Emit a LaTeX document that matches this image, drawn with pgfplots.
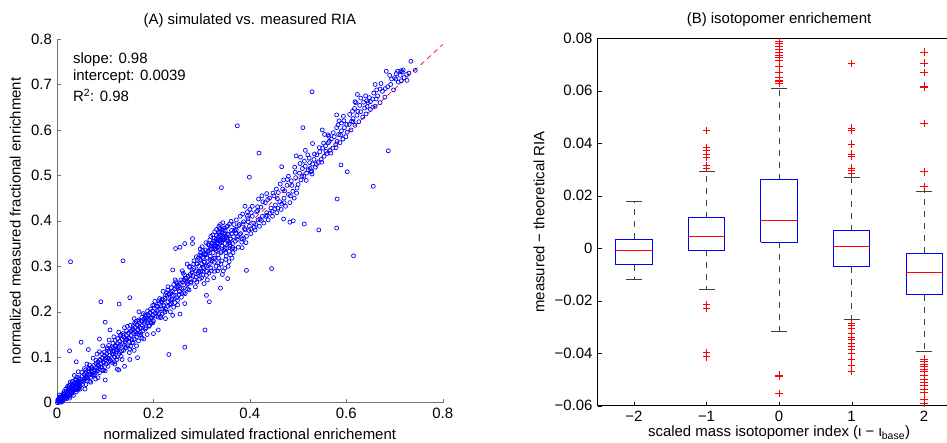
\documentclass[border=0pt]{standalone}
\usepackage{pgfplots}
\pgfplotsset{compat=1.18}
\usepackage{fontspec}
\setmainfont{Liberation Sans}
\begin{document}
\fontsize{15}{18}\selectfont
\begin{tikzpicture}[x=1bp,y=1bp]
\path[use as bounding box] (0,0) rectangle (947,443);
% ---------------- (A) ----------------
\begin{axis}[at={(57bp,40.3bp)}, anchor=south west, width=385.7bp, height=363.7bp, scale only axis,
  xmin=0, xmax=0.8, ymin=0, ymax=0.8,
  axis lines*=left, axis line style={black!55, line width=0.9bp},
  tick align=inside, major tick length=4bp, tick style={black!55},
  xtick={0,0.2,0.4,0.6,0.8}, xticklabels={0,0.2,0.4,0.6,0.8},
  ytick={0,0.1,0.2,0.3,0.4,0.5,0.6,0.7,0.8}, yticklabels={0,0.1,0.2,0.3,0.4,0.5,0.6,0.7,0.8},
  title={(A) simulated vs. measured RIA},
  xlabel={normalized simulated fractional enrichement},
  ylabel={normalized measured fractional enrichment},
  clip=false]
\addplot[only marks, mark=o, mark size=2bp, blue, mark options={line width=0.7bp}] coordinates {
(0.002,0.003)(0.004,0.001)(0.005,0.007)(0.006,0.004)(0.008,0.010)(0.009,0.006)(0.010,0.013)(0.011,0.008)(0.012,0.015)(0.013,0.010)
(0.014,0.012)(0.015,0.019)(0.016,0.014)(0.017,0.011)(0.018,0.022)(0.019,0.017)(0.020,0.024)(0.021,0.016)(0.022,0.020)(0.023,0.027)
(0.024,0.018)(0.025,0.030)(0.026,0.022)(0.027,0.025)(0.028,0.033)(0.029,0.021)(0.030,0.028)(0.031,0.036)(0.032,0.026)(0.033,0.031)
(0.034,0.039)(0.035,0.029)(0.036,0.034)(0.037,0.028)(0.038,0.042)(0.039,0.035)(0.040,0.032)(0.041,0.045)(0.042,0.037)(0.043,0.040)
(0.044,0.034)(0.045,0.048)(0.046,0.041)(0.047,0.044)(0.048,0.036)(0.049,0.052)(0.050,0.045)(0.003,0.008)(0.007,0.002)(0.012,0.004)
(0.015,0.025)(0.020,0.009)(0.025,0.038)(0.030,0.018)(0.035,0.044)(0.040,0.024)(0.045,0.055)(0.048,0.030)(0.001,0.000)(0.006,0.012)
(0.018,0.030)(0.028,0.040)(0.038,0.050)(0.043,0.028)(0.032,0.047)(0.022,0.036)(0.036,0.060)(0.044,0.068)(0.026,0.010)(0.034,0.016)
(0.052,0.058)(0.054,0.047)(0.056,0.062)(0.058,0.052)(0.060,0.066)(0.061,0.055)(0.063,0.048)(0.064,0.070)(0.066,0.060)(0.067,0.074)
(0.069,0.063)(0.070,0.056)(0.072,0.078)(0.073,0.068)(0.075,0.060)(0.076,0.082)(0.078,0.072)(0.079,0.065)(0.081,0.086)(0.082,0.076)
(0.084,0.070)(0.085,0.090)(0.087,0.080)(0.088,0.066)(0.090,0.094)(0.091,0.085)(0.093,0.078)(0.094,0.098)(0.096,0.090)(0.097,0.072)
(0.099,0.103)(0.100,0.094)(0.102,0.085)(0.103,0.108)(0.105,0.099)(0.106,0.080)(0.108,0.112)(0.109,0.104)(0.111,0.092)(0.112,0.117)
(0.114,0.108)(0.115,0.088)(0.117,0.121)(0.118,0.112)(0.120,0.100)(0.121,0.126)(0.123,0.116)(0.124,0.095)(0.126,0.130)(0.127,0.121)
(0.129,0.108)(0.130,0.135)(0.132,0.126)(0.133,0.102)(0.135,0.139)(0.136,0.130)(0.138,0.115)(0.139,0.144)(0.141,0.134)(0.142,0.120)
(0.144,0.148)(0.145,0.139)(0.147,0.125)(0.148,0.153)(0.150,0.143)(0.151,0.118)(0.153,0.157)(0.154,0.148)(0.156,0.132)(0.157,0.162)
(0.159,0.152)(0.160,0.140)(0.162,0.166)(0.163,0.156)(0.165,0.145)(0.166,0.171)(0.168,0.161)(0.169,0.136)(0.171,0.175)(0.172,0.165)
(0.174,0.150)(0.175,0.180)(0.177,0.170)(0.178,0.158)(0.180,0.184)(0.181,0.174)(0.183,0.162)(0.184,0.189)(0.186,0.179)(0.187,0.150)
(0.189,0.193)(0.190,0.183)(0.192,0.170)(0.193,0.198)(0.195,0.187)(0.196,0.175)(0.198,0.202)(0.199,0.192)(0.200,0.180)
(0.062,0.085)(0.075,0.098)(0.088,0.112)(0.095,0.125)(0.108,0.138)(0.118,0.145)(0.128,0.155)(0.140,0.165)(0.160,0.185)(0.170,0.200)
(0.085,0.055)(0.100,0.070)(0.120,0.085)(0.135,0.095)(0.150,0.110)(0.165,0.125)(0.128,0.072)(0.125,0.074)(0.070,0.045)(0.060,0.040)
(0.202,0.208)(0.204,0.196)(0.206,0.212)(0.208,0.200)(0.210,0.188)(0.212,0.218)(0.214,0.206)(0.216,0.222)(0.218,0.195)(0.220,0.226)
(0.222,0.213)(0.224,0.230)(0.226,0.205)(0.228,0.234)(0.230,0.222)(0.232,0.238)(0.234,0.215)(0.236,0.242)(0.238,0.228)(0.240,0.246)
(0.242,0.210)(0.244,0.250)(0.246,0.236)(0.248,0.254)(0.250,0.225)(0.252,0.258)(0.254,0.244)(0.256,0.262)(0.258,0.232)(0.260,0.266)
(0.262,0.252)(0.264,0.270)(0.266,0.240)(0.268,0.274)(0.270,0.260)(0.272,0.278)(0.274,0.248)(0.276,0.282)(0.278,0.266)(0.280,0.286)
(0.215,0.190)(0.235,0.200)(0.250,0.215)(0.255,0.195)(0.240,0.192)(0.265,0.218)(0.225,0.185)(0.220,0.245)(0.245,0.270)(0.260,0.290)
(0.270,0.305)(0.246,0.339)(0.255,0.342)(0.265,0.350)(0.281,0.361)(0.281,0.350)(0.240,0.292)(0.275,0.300)(0.262,0.285)(0.230,0.255)
(0.282,0.280)(0.284,0.295)(0.286,0.270)(0.288,0.290)(0.290,0.305)(0.292,0.282)(0.294,0.300)(0.296,0.315)(0.298,0.288)(0.300,0.306)
(0.302,0.320)(0.304,0.295)(0.306,0.310)(0.308,0.328)(0.310,0.300)(0.312,0.318)(0.314,0.334)(0.316,0.305)(0.318,0.322)(0.320,0.338)
(0.322,0.312)(0.324,0.330)(0.326,0.345)(0.328,0.318)(0.330,0.335)(0.332,0.350)(0.334,0.325)(0.336,0.342)(0.338,0.358)(0.340,0.330)
(0.342,0.346)(0.344,0.362)(0.346,0.335)(0.348,0.350)(0.350,0.366)(0.352,0.340)(0.354,0.356)(0.356,0.370)(0.358,0.345)(0.360,0.360)
(0.362,0.372)(0.364,0.350)(0.366,0.365)(0.368,0.378)(0.370,0.355)(0.325,0.355)(0.330,0.360)(0.335,0.365)(0.340,0.370)(0.328,0.348)
(0.333,0.352)(0.338,0.368)(0.343,0.375)(0.322,0.342)(0.345,0.380)(0.318,0.338)(0.312,0.330)(0.302,0.335)(0.296,0.325)(0.337,0.383)
(0.300,0.275)(0.310,0.280)(0.320,0.290)(0.330,0.300)(0.340,0.305)(0.350,0.315)(0.360,0.325)(0.355,0.300)(0.345,0.290)(0.290,0.265)
(0.305,0.262)(0.315,0.285)(0.325,0.275)(0.335,0.318)(0.365,0.330)(0.348,0.372)(0.352,0.362)(0.327,0.338)(0.332,0.342)(0.341,0.352)
(0.372,0.380)(0.375,0.365)(0.378,0.392)(0.381,0.372)(0.384,0.360)(0.387,0.398)(0.390,0.380)(0.393,0.366)(0.396,0.405)(0.399,0.388)
(0.402,0.372)(0.405,0.410)(0.408,0.395)(0.411,0.380)(0.414,0.420)(0.417,0.402)(0.420,0.388)(0.423,0.430)(0.426,0.410)(0.429,0.395)
(0.432,0.440)(0.435,0.418)(0.438,0.402)(0.441,0.450)(0.444,0.428)(0.447,0.410)(0.450,0.455)(0.453,0.435)(0.456,0.418)(0.459,0.462)
(0.462,0.442)(0.465,0.425)(0.468,0.470)(0.471,0.450)(0.474,0.432)(0.477,0.478)(0.480,0.458)(0.483,0.440)(0.486,0.488)(0.489,0.465)
(0.492,0.450)(0.495,0.495)(0.498,0.472)(0.380,0.410)(0.395,0.420)(0.405,0.432)(0.418,0.448)(0.425,0.455)(0.435,0.460)(0.385,0.415)
(0.400,0.425)(0.455,0.470)(0.470,0.490)(0.480,0.498)(0.399,0.496)(0.390,0.432)(0.416,0.422)(0.466,0.519)(0.493,0.518)(0.496,0.543)
(0.500,0.480)(0.503,0.505)(0.506,0.490)(0.509,0.515)(0.512,0.498)(0.515,0.520)(0.518,0.505)(0.521,0.512)(0.524,0.528)(0.527,0.508)
(0.530,0.525)(0.533,0.535)(0.536,0.518)(0.539,0.545)(0.542,0.528)(0.545,0.552)(0.548,0.535)(0.551,0.560)(0.554,0.542)(0.557,0.565)
(0.560,0.548)(0.563,0.572)(0.566,0.555)(0.569,0.580)(0.572,0.560)(0.575,0.585)(0.578,0.568)(0.581,0.575)(0.584,0.590)(0.587,0.572)
(0.590,0.598)(0.593,0.580)(0.596,0.605)(0.599,0.585)(0.505,0.540)(0.515,0.555)(0.520,0.545)(0.530,0.570)(0.555,0.590)(0.565,0.575)
(0.580,0.605)(0.585,0.620)(0.590,0.615)(0.550,0.600)(0.562,0.589)(0.589,0.523)(0.594,0.630)(0.580,0.633)(0.525,0.515)(0.528,0.510)
(0.602,0.595)(0.606,0.612)(0.610,0.600)(0.614,0.625)(0.618,0.610)(0.622,0.632)(0.626,0.618)(0.630,0.640)(0.634,0.628)(0.638,0.648)
(0.641,0.635)(0.645,0.660)(0.650,0.645)(0.655,0.668)(0.660,0.652)(0.665,0.675)(0.670,0.660)(0.675,0.685)(0.680,0.672)(0.686,0.695)
(0.692,0.700)(0.698,0.688)(0.703,0.712)(0.708,0.705)(0.712,0.720)(0.716,0.728)(0.720,0.715)(0.725,0.722)(0.730,0.725)(0.734,0.751)
(0.743,0.731)(0.726,0.709)(0.683,0.729)(0.704,0.724)(0.713,0.730)(0.663,0.688)(0.642,0.664)(0.623,0.678)(0.618,0.662)(0.650,0.662)
(0.613,0.641)(0.620,0.660)(0.640,0.675)(0.630,0.670)(0.660,0.700)(0.670,0.690)(0.690,0.720)(0.700,0.715)(0.614,0.618)(0.655,0.650)
(0.028,0.310)(0.137,0.312)(0.374,0.609)(0.529,0.684)(0.419,0.549)(0.341,0.473)(0.687,0.554)(0.602,0.508)(0.656,0.476)(0.581,0.448)
(0.510,0.605)(0.580,0.384)(0.543,0.380)(0.513,0.393)(0.470,0.404)(0.483,0.397)(0.490,0.400)(0.615,0.323)(0.445,0.295)(0.393,0.291)
(0.339,0.252)(0.354,0.273)(0.310,0.236)(0.316,0.222)(0.307,0.160)(0.265,0.122)(0.232,0.106)(0.091,0.222)(0.129,0.217)(0.151,0.231)
(0.026,0.114)(0.098,0.013)(0.050,0.133)(0.065,0.117)(0.195,0.176)(0.210,0.160)(0.100,0.177)(0.167,0.099)(0.125,0.101)(0.100,0.050)
(0.151,0.095)(0.110,0.160)(0.088,0.140)(0.040,0.090)(0.058,0.030)(0.080,0.052)(0.140,0.080)(0.180,0.140)(0.200,0.152)(0.160,0.115)
(0.005,0.017)(0.008,0.004)(0.015,0.019)(0.017,0.008)(0.022,0.033)(0.026,0.014)(0.032,0.039)(0.033,0.030)(0.041,0.056)(0.045,0.031)
(0.046,0.047)(0.053,0.040)(0.057,0.075)(0.060,0.054)(0.066,0.076)(0.068,0.047)(0.071,0.074)(0.077,0.061)(0.083,0.107)(0.086,0.075)
(0.089,0.095)(0.095,0.071)(0.098,0.111)(0.101,0.099)(0.107,0.126)(0.110,0.093)(0.113,0.121)(0.119,0.090)(0.122,0.124)(0.125,0.117)
(0.131,0.147)(0.134,0.114)(0.137,0.148)(0.143,0.138)(0.146,0.168)(0.149,0.135)(0.155,0.159)(0.158,0.132)(0.161,0.175)(0.167,0.160)
(0.170,0.179)(0.173,0.154)(0.179,0.196)(0.182,0.179)(0.185,0.191)(0.191,0.168)(0.194,0.206)(0.197,0.187)(0.203,0.223)(0.206,0.190)
(0.209,0.212)(0.215,0.187)(0.218,0.228)(0.221,0.215)(0.227,0.242)(0.230,0.212)(0.233,0.240)(0.239,0.227)(0.242,0.260)(0.245,0.220)
(0.251,0.256)(0.254,0.245)(0.257,0.270)(0.263,0.242)(0.266,0.274)(0.269,0.265)(0.275,0.298)(0.278,0.263)(0.281,0.292)(0.287,0.255)
(0.290,0.306)(0.293,0.286)(0.299,0.324)(0.302,0.289)(0.305,0.309)(0.311,0.289)(0.314,0.333)(0.317,0.315)(0.323,0.351)(0.326,0.309)
(0.329,0.338)(0.335,0.308)(0.338,0.359)(0.341,0.333)(0.347,0.361)(0.350,0.330)(0.353,0.359)(0.359,0.348)(0.362,0.379)(0.365,0.341)
(0.371,0.373)(0.374,0.359)(0.377,0.389)(0.383,0.353)(0.386,0.393)(0.389,0.383)(0.395,0.410)(0.398,0.379)
(0.0015,0.006)(0.0065,0.013)(0.0095,0.001)(0.0135,0.021)(0.0185,0.012)(0.0235,0.015)(0.0275,0.045)(0.0315,0.022)(0.0365,0.028)(0.0395,0.051)
(0.0425,0.046)(0.0475,0.039)(0.0515,0.067)(0.0555,0.051)(0.0595,0.072)(0.0625,0.056)(0.0675,0.083)(0.0725,0.062)(0.0765,0.069)(0.0805,0.093)
(0.0855,0.083)(0.0905,0.079)(0.0925,0.108)(0.0975,0.088)(0.1045,0.117)(0.1085,0.097)(0.1165,0.107)(0.1205,0.137)(0.1235,0.112)(0.1285,0.124)
(0.1325,0.149)(0.1395,0.126)(0.1445,0.158)(0.1485,0.141)(0.1525,0.124)(0.1585,0.170)(0.1635,0.151)(0.1695,0.182)(0.1745,0.164)(0.1765,0.142)
(0.1825,0.193)(0.1875,0.176)(0.1935,0.186)(0.1985,0.214)(0.2045,0.197)(0.2115,0.224)(0.2175,0.206)(0.2235,0.199)(0.2295,0.248)(0.2355,0.225)
(0.2415,0.236)(0.2475,0.266)(0.2535,0.238)(0.2585,0.251)(0.2645,0.281)(0.2715,0.262)(0.2765,0.272)(0.2835,0.305)(0.2885,0.276)(0.2945,0.289)
(0.2985,0.313)(0.3035,0.298)(0.3085,0.327)(0.3135,0.302)(0.3195,0.345)(0.3245,0.318)(0.3295,0.355)(0.3335,0.342)(0.3365,0.376)(0.3425,0.358)
(0.3485,0.339)(0.3535,0.371)(0.3575,0.352)(0.3635,0.338)(0.3695,0.381)(0.3785,0.370)(0.3875,0.362)(0.3965,0.398)
(0.403,0.418)(0.409,0.386)(0.416,0.431)(0.421,0.404)(0.427,0.442)(0.433,0.410)(0.437,0.447)(0.442,0.417)(0.448,0.461)(0.452,0.426)
(0.457,0.449)(0.463,0.481)(0.466,0.437)(0.472,0.466)(0.478,0.491)(0.484,0.455)(0.487,0.478)(0.494,0.507)(0.497,0.461)(0.504,0.526)
(0.508,0.497)(0.513,0.531)(0.517,0.489)(0.523,0.538)(0.529,0.503)(0.534,0.547)(0.538,0.524)(0.544,0.561)(0.549,0.529)(0.553,0.571)
(0.558,0.553)(0.564,0.586)(0.568,0.549)(0.573,0.594)(0.579,0.561)(0.583,0.611)(0.588,0.589)(0.595,0.620)(0.601,0.612)(0.607,0.634)
(0.611,0.619)(0.617,0.647)(0.624,0.641)(0.628,0.654)(0.636,0.661)(0.643,0.651)(0.648,0.671)(0.657,0.681)(0.662,0.668)(0.672,0.702)
(0.681,0.691)(0.694,0.712)(0.706,0.729)(0.714,0.708)(0.718,0.732)
(0.326,0.362)(0.331,0.368)(0.336,0.372)(0.339,0.356)(0.344,0.366)(0.329,0.344)(0.334,0.358)(0.342,0.381)(0.347,0.384)(0.321,0.350)
(0.316,0.346)(0.308,0.336)(0.298,0.330)(0.352,0.387)(0.333,0.290)(0.348,0.296)(0.357,0.310)(0.343,0.282)
(0.284,0.312)(0.289,0.321)(0.293,0.318)(0.297,0.338)(0.301,0.343)(0.306,0.325)(0.309,0.352)(0.313,0.348)(0.317,0.358)(0.319,0.366)
(0.323,0.369)(0.327,0.376)(0.331,0.381)(0.336,0.388)(0.339,0.392)(0.344,0.396)(0.349,0.378)(0.354,0.389)(0.358,0.393)(0.361,0.399)
(0.367,0.392)(0.372,0.402)(0.296,0.272)(0.303,0.281)(0.312,0.270)(0.319,0.296)(0.327,0.289)(0.336,0.296)(0.342,0.312)(0.351,0.322)
(0.357,0.333)(0.363,0.318)(0.369,0.338)(0.376,0.342)(0.384,0.341)(0.392,0.352)(0.402,0.382)(0.412,0.392)(0.424,0.401)(0.436,0.412)
(0.446,0.421)(0.458,0.428)(0.471,0.440)(0.104,0.121)(0.116,0.131)(0.126,0.141)(0.137,0.152)(0.152,0.170)(0.164,0.179)(0.176,0.188)
(0.188,0.202)(0.201,0.215)(0.213,0.229)(0.225,0.237)(0.237,0.253)(0.249,0.262)(0.107,0.090)(0.119,0.101)(0.131,0.112)(0.143,0.122)
(0.155,0.138)(0.171,0.149)(0.185,0.165)(0.199,0.176)(0.211,0.196)(0.224,0.201)(0.236,0.218)(0.248,0.231)(0.259,0.240)(0.271,0.250)
};
\addplot[red, line width=0.7bp, dash pattern=on 5bp off 4bp] coordinates {(0,0.0039) (0.8,0.7879)};
\node[anchor=base west, inner sep=0pt] at (axis cs:0.033,0.746) {slope: 0.98};
\node[anchor=base west, inner sep=0pt] at (axis cs:0.033,0.708) {intercept: 0.0039};
\node[anchor=base west, inner sep=0pt] at (axis cs:0.033,0.662) {R\textsuperscript{2}: 0.98};
\end{axis}
% ---------------- (B) ----------------
\begin{axis}[at={(597.7bp,37.3bp)}, anchor=south west, width=362.7bp, height=367.5bp, scale only axis,
  xmin=-2.5, xmax=2.5, ymin=-0.06, ymax=0.08,
  axis line style={black, line width=0.9bp},
  tick align=inside, tick pos=left, major tick length=4bp, tick style={black},
  scaled y ticks=false,
  xtick={-2,-1,0,1,2}, xticklabels={−2,−1,0,1,2},
  ytick={-0.06,-0.04,-0.02,0,0.02,0.04,0.06,0.08},
  yticklabels={−0.06,−0.04,−0.02,0,0.02,0.04,0.06,0.08},
  title={(B) isotopomer enrichement},
  xlabel={scaled mass isotopomer index (ι − ι\textsubscript{base})},
  xlabel style={yshift=6bp},
  ylabel={measured − theoretical RIA},
  clip=false]
% whiskers
\addplot[black!75, line width=0.8bp, dash pattern=on 6bp off 6bp] coordinates {(-2,0.0035) (-2,0.0178)};
\addplot[black!75, line width=0.8bp, dash pattern=on 6bp off 6bp] coordinates {(-2,-0.0064) (-2,-0.0118)};
\addplot[black!75, line width=0.8bp, dash pattern=on 6bp off 6bp] coordinates {(-1,0.0115) (-1,0.0291)};
\addplot[black!75, line width=0.8bp, dash pattern=on 6bp off 6bp] coordinates {(-1,-0.0007) (-1,-0.0157)};
\addplot[black!75, line width=0.8bp, dash pattern=on 6bp off 6bp] coordinates {(0,0.026) (0,0.0609)};
\addplot[black!75, line width=0.8bp, dash pattern=on 6bp off 6bp] coordinates {(0,0.0023) (0,-0.0319)};
\addplot[black!75, line width=0.8bp, dash pattern=on 6bp off 6bp] coordinates {(1,0.0067) (1,0.0269)};
\addplot[black!75, line width=0.8bp, dash pattern=on 6bp off 6bp] coordinates {(1,-0.007) (1,-0.0273)};
\addplot[black!75, line width=0.8bp, dash pattern=on 6bp off 6bp] coordinates {(2,-0.0019) (2,0.0218)};
\addplot[black!75, line width=0.8bp, dash pattern=on 6bp off 6bp] coordinates {(2,-0.0177) (2,-0.0394)};
% caps
\addplot[black!75, line width=0.9bp] coordinates {(-2.11,0.0178) (-1.89,0.0178)};
\addplot[black!75, line width=0.9bp] coordinates {(-2.11,-0.0118) (-1.89,-0.0118)};
\addplot[black!75, line width=0.9bp] coordinates {(-1.11,0.0291) (-0.89,0.0291)};
\addplot[black!75, line width=0.9bp] coordinates {(-1.11,-0.0157) (-0.89,-0.0157)};
\addplot[black!75, line width=0.9bp] coordinates {(-0.11,0.0609) (0.11,0.0609)};
\addplot[black!75, line width=0.9bp] coordinates {(-0.11,-0.0319) (0.11,-0.0319)};
\addplot[black!75, line width=0.9bp] coordinates {(0.89,0.0269) (1.11,0.0269)};
\addplot[black!75, line width=0.9bp] coordinates {(0.89,-0.0273) (1.11,-0.0273)};
\addplot[black!75, line width=0.9bp] coordinates {(1.89,0.0218) (2.11,0.0218)};
\addplot[black!75, line width=0.9bp] coordinates {(1.89,-0.0394) (2.11,-0.0394)};
% boxes
\addplot[blue, line width=1bp] coordinates {(-2.25,-0.0064) (-1.75,-0.0064) (-1.75,0.0035) (-2.25,0.0035) (-2.25,-0.0064)};
\addplot[blue, line width=1bp] coordinates {(-1.25,-0.0007) (-0.75,-0.0007) (-0.75,0.0115) (-1.25,0.0115) (-1.25,-0.0007)};
\addplot[blue, line width=1bp] coordinates {(-0.25,0.0023) (0.25,0.0023) (0.25,0.026) (-0.25,0.026) (-0.25,0.0023)};
\addplot[blue, line width=1bp] coordinates {(0.75,-0.007) (1.25,-0.007) (1.25,0.0067) (0.75,0.0067) (0.75,-0.007)};
\addplot[blue, line width=1bp] coordinates {(1.75,-0.0177) (2.25,-0.0177) (2.25,-0.0019) (1.75,-0.0019) (1.75,-0.0177)};
% medians
\addplot[red, line width=0.8bp] coordinates {(-2.25,-0.0007) (-1.75,-0.0007)};
\addplot[red, line width=0.8bp] coordinates {(-1.25,0.0045) (-0.75,0.0045)};
\addplot[red, line width=0.8bp] coordinates {(-0.25,0.0105) (0.25,0.0105)};
\addplot[red, line width=0.8bp] coordinates {(0.75,0.0006) (1.25,0.0006)};
\addplot[red, line width=0.8bp] coordinates {(1.75,-0.0092) (2.25,-0.0092)};
% outliers
\addplot[only marks, mark=+, mark size=3.8bp, red, mark options={line width=0.8bp}] coordinates {
(-1,0.0449)(-1,0.0383)(-1,0.0372)(-1,0.0358)(-1,0.0345)(-1,0.0315)(-1,0.0305)(-1,-0.0214)(-1,-0.0229)(-1,-0.0397)(-1,-0.0414)
(0,0.0787)(0,0.0781)(0,0.0768)(0,0.0756)(0,0.0745)(0,0.0736)(0,0.0727)(0,0.0717)(0,0.0692)(0,0.0669)(0,0.0651)(0,0.0641)(0,0.0635)(0,0.0629)
(0,-0.0483)(0,-0.0489)(0,-0.0554)
(1,0.0703)(1,0.0457)(1,0.0448)(1,0.0397)(1,0.0359)(1,0.0349)(1,0.0305)(1,0.0295)(1,0.0286)
(1,-0.0286)(1,-0.0296)(1,-0.0305)(1,-0.0324)(1,-0.0339)(1,-0.0349)(1,-0.0362)(1,-0.0375)(1,-0.0387)(1,-0.0400)(1,-0.0423)(1,-0.0445)(1,-0.0470)
(2,0.0747)(2,0.0705)(2,0.0670)(2,0.0618)(2,0.0612)(2,0.0475)(2,0.0291)(2,0.0234)
(2,-0.0423)(2,-0.0431)(2,-0.0441)(2,-0.0450)(2,-0.0460)(2,-0.0470)(2,-0.0486)(2,-0.0500)(2,-0.0512)(2,-0.0524)(2,-0.0537)(2,-0.0550)(2,-0.0575)(2,-0.0591)
};
\end{axis}
\end{tikzpicture}
\end{document}
